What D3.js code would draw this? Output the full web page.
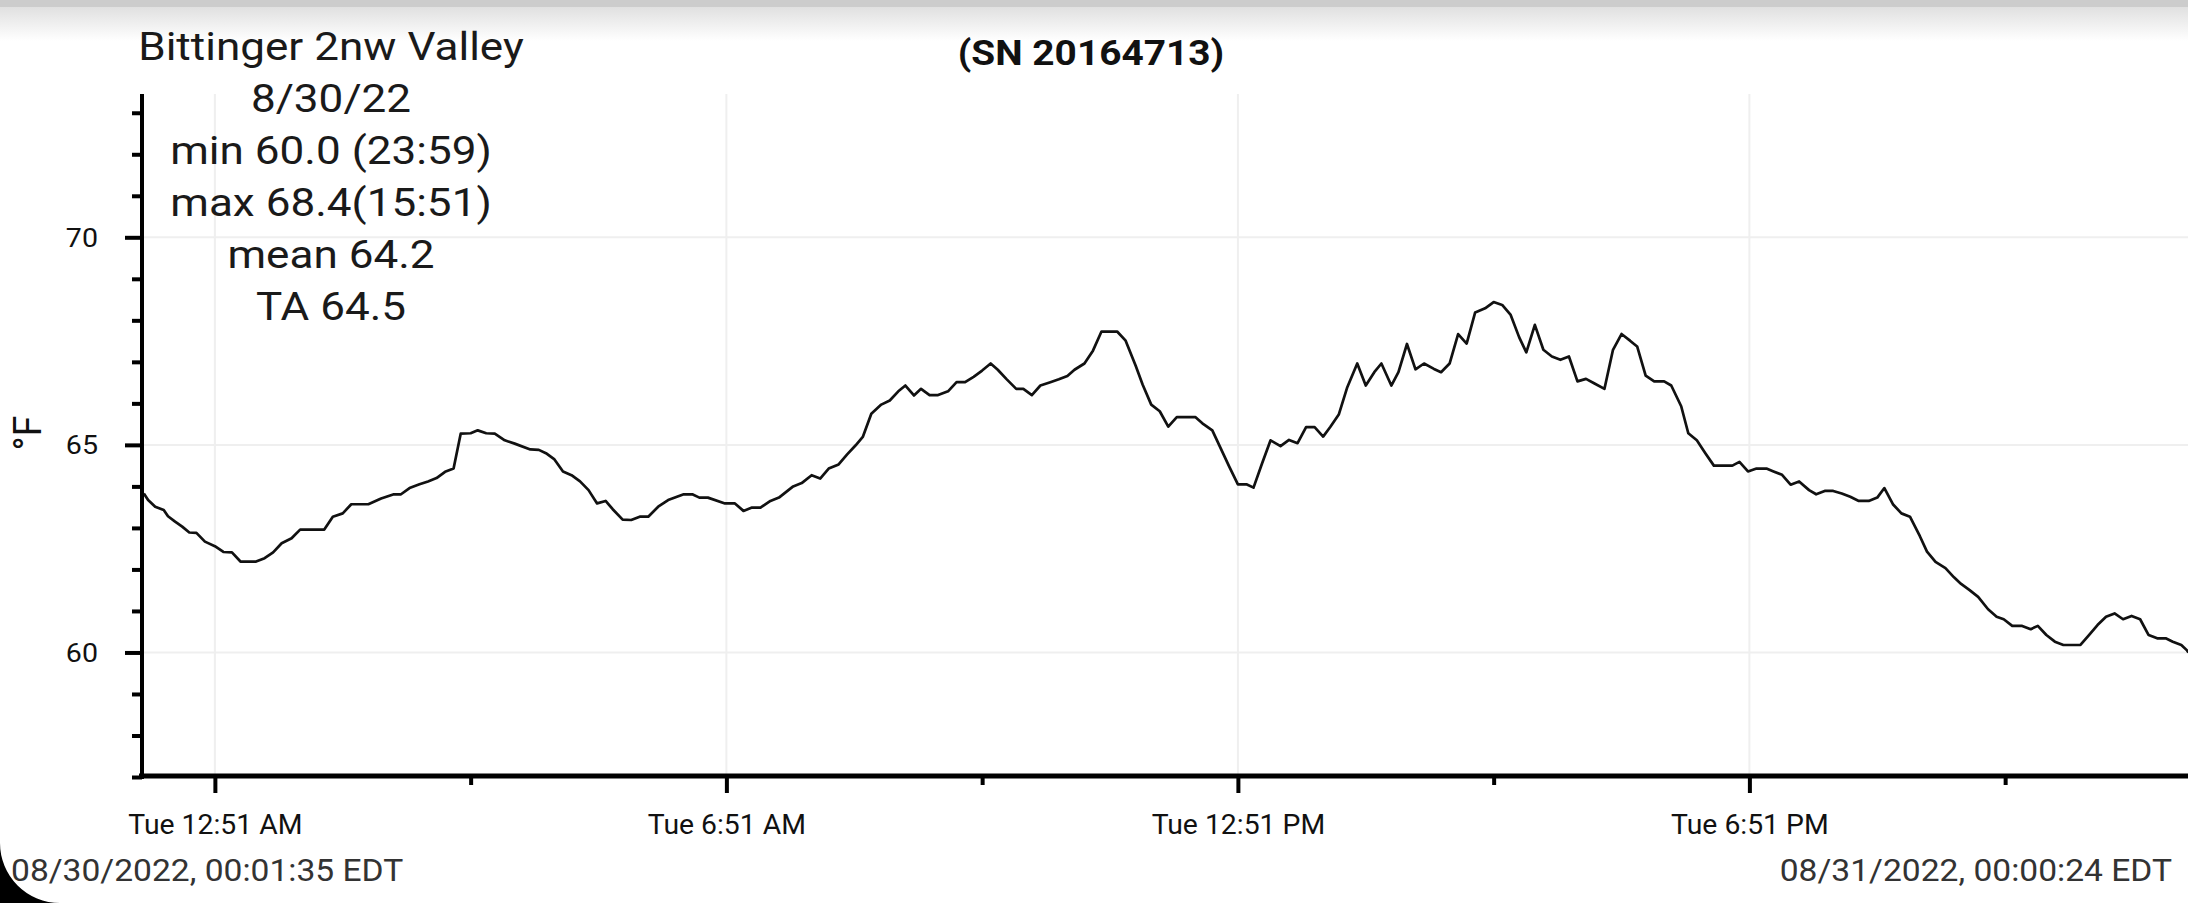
<!DOCTYPE html>
<html>
<head>
<meta charset="utf-8">
<script src="https://cdn.jsdelivr.net/npm/d3@7"></script>
<style>
html,body{margin:0;padding:0;background:#fff;}
svg{display:block;}
text{font-family:Roboto,"Noto Sans",sans-serif;}
</style>
</head>
<body>
<svg id="chart" width="2188" height="903"></svg>
<script>
// ---- data ----
const times = ["0:01","0:04","0:09","0:15","0:18","0:23","0:28","0:33","0:38","0:44","0:51","0:57","1:03","1:09","1:20","1:26","1:32","1:38","1:45","1:51","2:08","2:14","2:21","2:27","2:39","2:48","2:57","3:02","3:08","3:15","3:21","3:27","3:33","3:39","3:44","3:51","3:56","4:02","4:08","4:15","4:22","4:33","4:39","4:44","4:50","4:56","5:02","5:08","5:14","5:20","5:26","5:31","5:38","5:44","5:50","5:56",
"6:03","6:10","6:21","6:27","6:32","6:38","6:50","6:57","7:03","7:09","7:15","7:22","7:28","7:38","7:44","7:51","7:57","8:03","8:10","8:16","8:22","8:27","8:33","8:40","8:46","8:52","8:57","9:03","9:08","9:14","9:20","9:27","9:33","9:39","9:45","9:51","9:57","10:02","10:08","10:15","10:20","10:26","10:32","10:39","10:45","10:51","10:56","11:03","11:09","11:15","11:26","11:32","11:39","11:44","11:50","11:56",
"12:02","12:08","12:21","12:26","12:33","12:39","12:45","12:51","12:57","13:02","13:08","13:14","13:21","13:27","13:33","13:39","13:45","13:51","13:56","14:02","14:08","14:15","14:21","14:27","14:32","14:39","14:44","14:50","14:56","15:02","15:09","15:14","15:20","15:26","15:32","15:38","15:45","15:51","15:57","16:03","16:09","16:14","16:20","16:26","16:32","16:38","16:44","16:50","16:56","17:02","17:09","17:15","17:21","17:27","17:32","17:38","17:44","17:51","17:56","18:03",
"18:08","18:14","18:20","18:26","18:39","18:44","18:50","18:56","19:03","19:08","19:14","19:20","19:26","19:33","19:38","19:44","19:50","19:56","20:02","20:08","20:15","20:21","20:26","20:32","20:38","20:44","20:51","20:56","21:02","21:09","21:15","21:20","21:26","21:32","21:39","21:45","21:50","21:56","22:03","22:09","22:14","22:20","22:26","22:32","22:44","22:50","22:56","23:02","23:08","23:14","23:20","23:26","23:32","23:38","23:44","23:49","23:55","23:59","24:00"];
const temps = [63.83,63.67,63.51,63.43,63.28,63.15,63.03,62.89,62.88,62.67,62.56,62.42,62.41,62.19,62.19,62.27,62.41,62.63,62.75,62.96,62.96,63.27,63.35,63.57,63.57,63.71,63.81,63.81,63.96,64.05,64.12,64.20,64.35,64.43,65.27,65.28,65.35,65.28,65.27,65.11,65.03,64.89,64.88,64.80,64.65,64.36,64.27,64.12,63.91,63.59,63.65,63.45,63.20,63.19,63.27,63.27,
63.51,63.67,63.81,63.81,63.73,63.73,63.59,63.59,63.41,63.49,63.49,63.65,63.73,64.00,64.08,64.27,64.19,64.43,64.53,64.77,64.99,65.19,65.75,65.97,66.07,66.29,66.43,66.19,66.35,66.20,66.20,66.29,66.51,66.51,66.64,66.79,66.96,66.81,66.59,66.35,66.35,66.20,66.43,66.51,66.58,66.66,66.81,66.96,67.27,67.73,67.73,67.51,66.91,66.45,65.97,65.81,
65.44,65.67,65.67,65.52,65.35,64.91,64.47,64.05,64.05,63.97,64.55,65.11,64.97,65.12,65.04,65.43,65.43,65.20,65.43,65.73,66.39,66.96,66.43,66.75,66.96,66.43,66.75,67.43,66.82,66.96,66.83,66.75,66.96,67.67,67.44,68.19,68.29,68.44,68.37,68.13,67.59,67.23,67.89,67.29,67.13,67.05,67.13,66.53,66.59,66.48,66.35,67.29,67.67,67.51,67.37,66.67,66.53,66.53,66.43,65.93,
65.28,65.11,64.80,64.50,64.50,64.59,64.36,64.43,64.43,64.36,64.28,64.04,64.12,63.91,63.81,63.89,63.89,63.83,63.75,63.65,63.65,63.73,63.96,63.57,63.35,63.27,62.80,62.43,62.18,62.03,61.81,61.65,61.50,61.34,61.04,60.86,60.80,60.64,60.64,60.56,60.64,60.42,60.26,60.18,60.18,60.42,60.66,60.86,60.94,60.80,60.88,60.80,60.42,60.34,60.34,60.26,60.18,60.05,60.00];

const xTickTimes = ["0:51","3:51","6:51","9:51","12:51","15:51","18:51","21:51"];
const xTickLabels = ["Tue 12:51 AM","","Tue 6:51 AM","","Tue 12:51 PM","","Tue 6:51 PM",""];
const yTicks = [57,58,59,60,61,62,63,64,65,66,67,68,69,70,71,72,73];
const yTickLabels = {60:"60",65:"65",70:"70"};
const statLines = ["Bittinger 2nw Valley","8/30/22","min 60.0 (23:59)","max 68.4(15:51)","mean 64.2","TA 64.5"];
const titleText = "(SN 20164713)";
const yLabel = "°F";
const startLabel = "08/30/2022, 00:01:35 EDT";
const endLabel = "08/31/2022, 00:00:24 EDT";

// ---- helpers ----
const base = new Date(2022, 7, 30, 0, 0, 0);
function toDate(s){ const [h,m] = s.split(":").map(Number); return new Date(base.getTime() + (h*60+m)*60000); }
const data = times.map((t,i)=>({t:toDate(t), v:temps[i]}));

const svg = d3.select("#chart");
const W = 2188, H = 903;

// helper: text stretched horizontally (the screenshot is slightly wide)
function wideText(sel, px, py, sx){
  return sel.attr("x",0).attr("y",0).attr("transform",`translate(${px},${py}) scale(${sx},1)`);
}

// top status-bar shadow
const defs = svg.append("defs");
const g1 = defs.append("linearGradient").attr("id","topfade").attr("x1",0).attr("y1",0).attr("x2",0).attr("y2",1);
g1.append("stop").attr("offset","0%").attr("stop-color","#e0e0e0");
g1.append("stop").attr("offset","100%").attr("stop-color","#ffffff");
svg.append("rect").attr("x",0).attr("y",7).attr("width",W).attr("height",34).attr("fill","url(#topfade)");
svg.append("rect").attr("x",0).attr("y",0).attr("width",W).attr("height",7).attr("fill","#cccccc");

// scales
const x = d3.scaleTime()
  .domain([new Date(2022,7,29,23,59,0), new Date(2022,7,31,0,0,24)])
  .range([141, 2189]);
const y = d3.scaleLinear().domain([57, 73.5]).range([777, 92]);

const plotLeft = 142, plotRight = W, plotTop = 94, plotBottom = 776;

// gridlines
const grid = svg.append("g");
grid.selectAll("line.h").data(yTicks.filter(v=>yTickLabels[v])).enter().append("line")
  .attr("x1",plotLeft).attr("x2",plotRight).attr("y1",d=>y(d)).attr("y2",d=>y(d))
  .attr("stroke","#efefef").attr("stroke-width",2);
grid.selectAll("line.v").data(xTickTimes.filter((d,i)=>xTickLabels[i])).enter().append("line")
  .attr("x1",d=>x(toDate(d))).attr("x2",d=>x(toDate(d))).attr("y1",plotTop).attr("y2",plotBottom)
  .attr("stroke","#efefef").attr("stroke-width",2);

// line
const line = d3.line().x(d=>x(d.t)).y(d=>y(d.v));
svg.append("path").datum(data).attr("d",line)
  .attr("fill","none").attr("stroke","#111").attr("stroke-width",2.7).attr("stroke-linejoin","round");

// y axis
const yAxis = d3.axisLeft(y).tickValues(yTicks).tickSize(10).tickFormat(d=>yTickLabels[d]||"");
const ya = svg.append("g").attr("transform",`translate(${plotLeft},0)`).call(yAxis);
ya.select(".domain").remove();
ya.selectAll(".tick line").attr("stroke","#000").attr("stroke-width",4)
  .attr("x2",d=>yTickLabels[d]? -17 : -10);
ya.selectAll(".tick text").each(function(d){
  d3.select(this).attr("dy","0.35em").attr("font-size",26).attr("fill","#111")
    .attr("font-family","Roboto").attr("text-anchor","end");
  wideText(d3.select(this), -44, 0, 1.1);
});
svg.append("line").attr("x1",plotLeft).attr("x2",plotLeft).attr("y1",plotTop).attr("y2",779)
  .attr("stroke","#000").attr("stroke-width",4);

// x axis
const xAxis = d3.axisBottom(x).tickValues(xTickTimes.map(toDate)).tickSize(16)
  .tickFormat((d,i)=>xTickLabels[i]);
const xa = svg.append("g").attr("transform",`translate(0,${plotBottom})`).call(xAxis);
xa.select(".domain").remove();
xa.selectAll(".tick line").attr("stroke","#000").attr("stroke-width",4)
  .attr("y2",(d,i)=>xTickLabels[i]? 17 : 9);
xa.selectAll(".tick text").each(function(){
  d3.select(this).attr("dy",0).attr("font-size",27).attr("fill","#111").attr("font-family","Roboto");
  wideText(d3.select(this), 0, 58, 1.05);
});
svg.append("line").attr("x1",139).attr("x2",W).attr("y1",plotBottom).attr("y2",plotBottom)
  .attr("stroke","#000").attr("stroke-width",5);

// y label
svg.append("text").attr("transform","translate(41,433) rotate(-90)")
  .attr("text-anchor","middle").attr("font-size",38).attr("fill","#111").text(yLabel);

// title
wideText(svg.append("text"), 1091, 65, 1.11).attr("text-anchor","middle")
  .attr("font-size",35).attr("font-weight","bold").attr("fill","#111").text(titleText);

// stats block
svg.append("g").selectAll("text").data(statLines).enter().append("text")
  .each(function(d,i){ wideText(d3.select(this), 331, 60+i*52, 1.13); })
  .attr("text-anchor","middle")
  .attr("font-size",39).attr("fill","#1a1a1a").text(d=>d);

// footer timestamps
wideText(svg.append("text"), 11, 881, 1.05).attr("font-size",32).attr("fill","#333").text(startLabel);
wideText(svg.append("text"), 2172, 881, 1.05).attr("text-anchor","end").attr("font-size",32).attr("fill","#333").text(endLabel);

// rounded screen corner
svg.append("path").attr("d","M0,843 A60,60 0 0 0 60,903 L0,903 Z").attr("fill","#000");
</script>
</body>
</html>
